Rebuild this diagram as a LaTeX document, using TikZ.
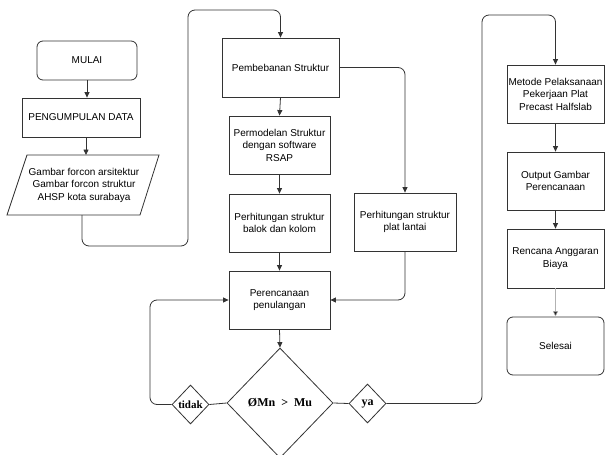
\documentclass[tikz,border=0pt]{standalone}
\usepackage{fontspec}
\setmainfont{Liberation Sans}
\newfontfamily\serifbold{Liberation Serif}
\usetikzlibrary{arrows.meta,shapes.geometric}
\begin{document}
\begin{tikzpicture}[x=1pt,y=-1pt,
  box/.style={draw=black!80, line width=0.8pt, rectangle, inner sep=0pt, align=center,
    font=\fontsize{10}{12.5}\selectfont},
  rbox/.style={box, rounded corners=6pt},
  ln/.style={draw=black!80, line width=0.8pt, rounded corners=7pt},
  arr/.style={ln, -{Triangle[length=5.5pt,width=5pt]}},
  lightarr/.style={draw=black!30, line width=0.5pt, -{Triangle[length=5.5pt,width=5pt,fill=black!85]}},
  dia/.style={draw=black!80, line width=0.8pt, diamond, inner sep=0pt, aspect=1},
  dtext/.style={font=\serifbold\bfseries\fontsize{12}{14}\selectfont, inner sep=0pt},
  stext/.style={font=\serifbold\bfseries\fontsize{11}{13}\selectfont, inner sep=0pt}
]
\useasboundingbox (0,0) rectangle (606,455);
\fill[white] (0,0) rectangle (606,455);

% left column
\node[rbox, minimum width=100pt, minimum height=39pt] (mulai) at (87,60.5) {MULAI};
\node[box, minimum width=118pt, minimum height=39pt] (data) at (81,117.5) {PENGUMPULAN DATA};
\draw[draw=black!80, line width=0.8pt] (27,155) -- (159,155) -- (140,215) -- (7,215) -- cycle;
\node[align=center, inner sep=0pt, font=\fontsize{10}{12.5}\selectfont] (input) at (84,185)
  {Gambar forcon arsitektur\\Gambar forcon struktur\\AHSP kota surabaya};
\coordinate (inbot) at (82,215);

% middle column
\node[box, minimum width=117pt, minimum height=59pt] (pemb) at (280.5,67.5) {Pembebanan Struktur};
\node[box, minimum width=101pt, minimum height=58pt] (permod) at (279.5,145) {Permodelan Struktur\\dengan software\\RSAP};
\node[box, minimum width=101pt, minimum height=58pt] (balok) at (279.5,223) {Perhitungan struktur\\balok dan kolom};
\node[box, minimum width=102pt, minimum height=58pt] (plat) at (405,222) {Perhitungan struktur\\plat lantai};
\node[box, minimum width=101pt, minimum height=58pt] (peren) at (279.5,300) {Perencanaan\\penulangan};
\node[dia, minimum width=106pt, minimum height=110pt] (cek) at (280,403) {};
\node[dtext] (cektext) at (280,403) {ØMn \ > \ Mu};
\node[dia, minimum width=37pt, minimum height=39pt] (tidak) at (190.5,404.5) {};
\node[stext] (tidaktext) at (190.5,404.5) {tidak};
\node[dia, minimum width=37pt, minimum height=39pt] (ya) at (367.5,403.5) {};
\node[dtext] (yatext) at (367.5,403.5) {ya};

% right column
\node[box, minimum width=97pt, minimum height=58pt] (metode) at (555.5,94) {Metode Pelaksanaan\\Pekerjaan Plat\\Precast Halfslab};
\node[box, minimum width=97pt, minimum height=58pt] (output) at (555.5,181) {Output Gambar\\Perencanaan};
\node[box, minimum width=97pt, minimum height=59pt] (rab) at (555.5,258.5) {Rencana Anggaran\\Biaya};
\node[rbox, minimum width=97pt, minimum height=58pt] (selesai) at (555.5,346) {Selesai};

% connectors
\draw[arr] (mulai.south) -- (mulai.south |- data.north);
\draw[arr] (data.south -| 86,0) -- (86,155);
\draw[arr] (inbot) -- (82,246) -- (188,246) -- (188,10) -- (pemb.north |- 0,10) -- (pemb.north);
\draw[arr] (pemb.south) -- (permod.north);
\draw[arr] (permod.south) -- (balok.north);
\draw[arr] (pemb.east) -| (plat.north);
\draw[arr] (balok.south) -- (peren.north);
\draw[arr] (plat.south) |- (peren.east);
\draw[arr] (peren.south) -- (cek.north);
\draw[ln] (cek.west) -- (tidak.east);
\draw[arr] (tidak.west) -- (150,404.5) |- (peren.west);
\draw[ln] (cek.east) -- (ya.west);
\draw[arr] (ya.east) -- (482,403.5) -- (482,15) -| (metode.north);
\draw[arr] (metode.south) -- (output.north);
\draw[arr] (output.south) -- (rab.north);
\draw[lightarr] (rab.south) -- (selesai.north);
\end{tikzpicture}
\end{document}
